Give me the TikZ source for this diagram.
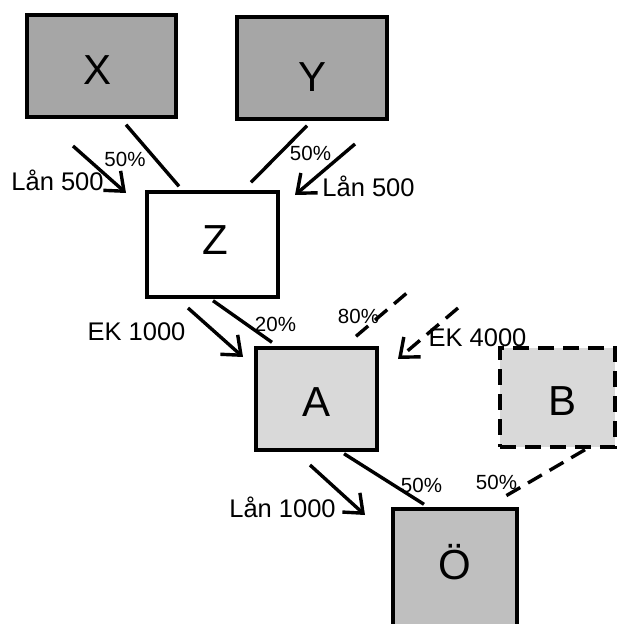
\documentclass[tikz,border=0pt]{standalone}
\usepackage{fontspec}
\setmainfont{Liberation Sans}
\usetikzlibrary{arrows.meta,calc}
\definecolor{ownerfill}{HTML}{A6A6A6}
\definecolor{companyfill}{HTML}{D9D9D9}
\definecolor{subfill}{HTML}{BFBFBF}
\begin{document}
\begin{tikzpicture}[x=1pt,y=-1pt,
  entity/.style={draw, line width=3.4pt, inner sep=0pt},
  boxtext/.style={font=\fontsize{42}{50}\selectfont},
  share/.style={font=\fontsize{20.5}{24}\selectfont, inner sep=0pt},
  amount/.style={font=\fontsize{25.5}{30}\selectfont, inner sep=0pt},
  link/.style={line width=3.4pt},
  duelink/.style={link, dash pattern=on 16pt off 9pt},
  flow/.style={line width=3.4pt, -{Straight Barb[length=16pt,width=26pt]}},
]
\clip (0,0) rectangle (617,624);

% companies
\node[entity, fill=ownerfill, minimum width=149pt, minimum height=102pt,
  label={[boxtext,xshift=-3.5pt,yshift=-4pt]center:X}] (X) at (101.5,66) {};
\node[entity, fill=ownerfill, minimum width=150pt, minimum height=102pt,
  label={[boxtext,xshift=1pt,yshift=-9pt]center:Y}] (Y) at (312,68) {};
\node[entity, fill=white, minimum width=131pt, minimum height=105pt,
  label={[boxtext,xshift=2.5pt,yshift=4.5pt]center:Z}] (Z) at (212.5,244.5) {};
\node[entity, fill=companyfill, minimum width=121pt, minimum height=102pt,
  label={[boxtext,xshift=0.5pt,yshift=-3pt]center:A}] (A) at (316.5,399) {};
\node[entity, fill=companyfill, dash pattern=on 16pt off 9pt, minimum width=115pt, minimum height=99pt,
  label={[boxtext,xshift=5pt,yshift=-3.5pt]center:B}] (B) at (557.5,397.5) {};
\node[entity, fill=subfill, minimum width=124pt, minimum height=141pt,
  label={[boxtext,yshift=17.5pt]center:Ö}] (O) at (455,579.5) {};

% ownership lines
\draw[link] ($(X.south)+(24.5,6)$) -- ($(Z.north)+(-33.5,-4)$);
\draw[link] ($(Y.south)+(-5,5)$) -- ($(Z.north)+(38.5,-8)$);
\draw[link] ($(Z.south)+(0.5,2)$) -- ($(A.north)+(-44.5,-4)$);
\coordinate (outside) at (408,292);
\draw[duelink] ($(A.north)+(39.5,-10)$) -- (outside);
\draw[link] ($(A.south)+(27.5,2)$) -- ($(O.north)+(-31,-3)$);
\draw[duelink] ($(B.south)+(27.5,1)$) -- ($(O.north)+(45,-8)$);

% capital flows
\coordinate (l1s) at (73,146);   \coordinate (l1e) at (126,193);
\coordinate (l2s) at (355,144);  \coordinate (l2e) at (295,195);
\coordinate (e1s) at (188,308);  \coordinate (e1e) at (243,357);
\coordinate (e4s) at (458,308);  \coordinate (e4e) at (398,359);
\coordinate (l3s) at (310,465);  \coordinate (l3e) at (365,515);
\draw[flow] (l1s) -- (l1e);
\draw[flow] (l2s) -- (l2e);
\draw[flow] (e1s) -- (e1e);
\draw[flow, dash pattern=on 16pt off 9pt] (e4s) -- (e4e);
\draw[flow] (l3s) -- (l3e);

% labels
\node[amount] (tl1) at (57.5,180) {Lån 500};
\node[share]  (p1)  at (125,159) {50\%};
\node[share]  (p2)  at (310.5,153) {50\%};
\node[amount] (tl2) at (368.5,186) {Lån 500};
\node[amount] (te1) at (136.5,332) {EK 1000};
\node[share]  (p3)  at (275.5,324) {20\%};
\node[share]  (p4)  at (358.5,316) {80\%};
\node[amount] (te4) at (477.5,338) {EK 4000};
\node[share]  (p5)  at (421.5,485) {50\%};
\node[share]  (p6)  at (496.5,482) {50\%};
\node[amount] (tl3) at (282.5,507) {Lån 1000};
\end{tikzpicture}
\end{document}
